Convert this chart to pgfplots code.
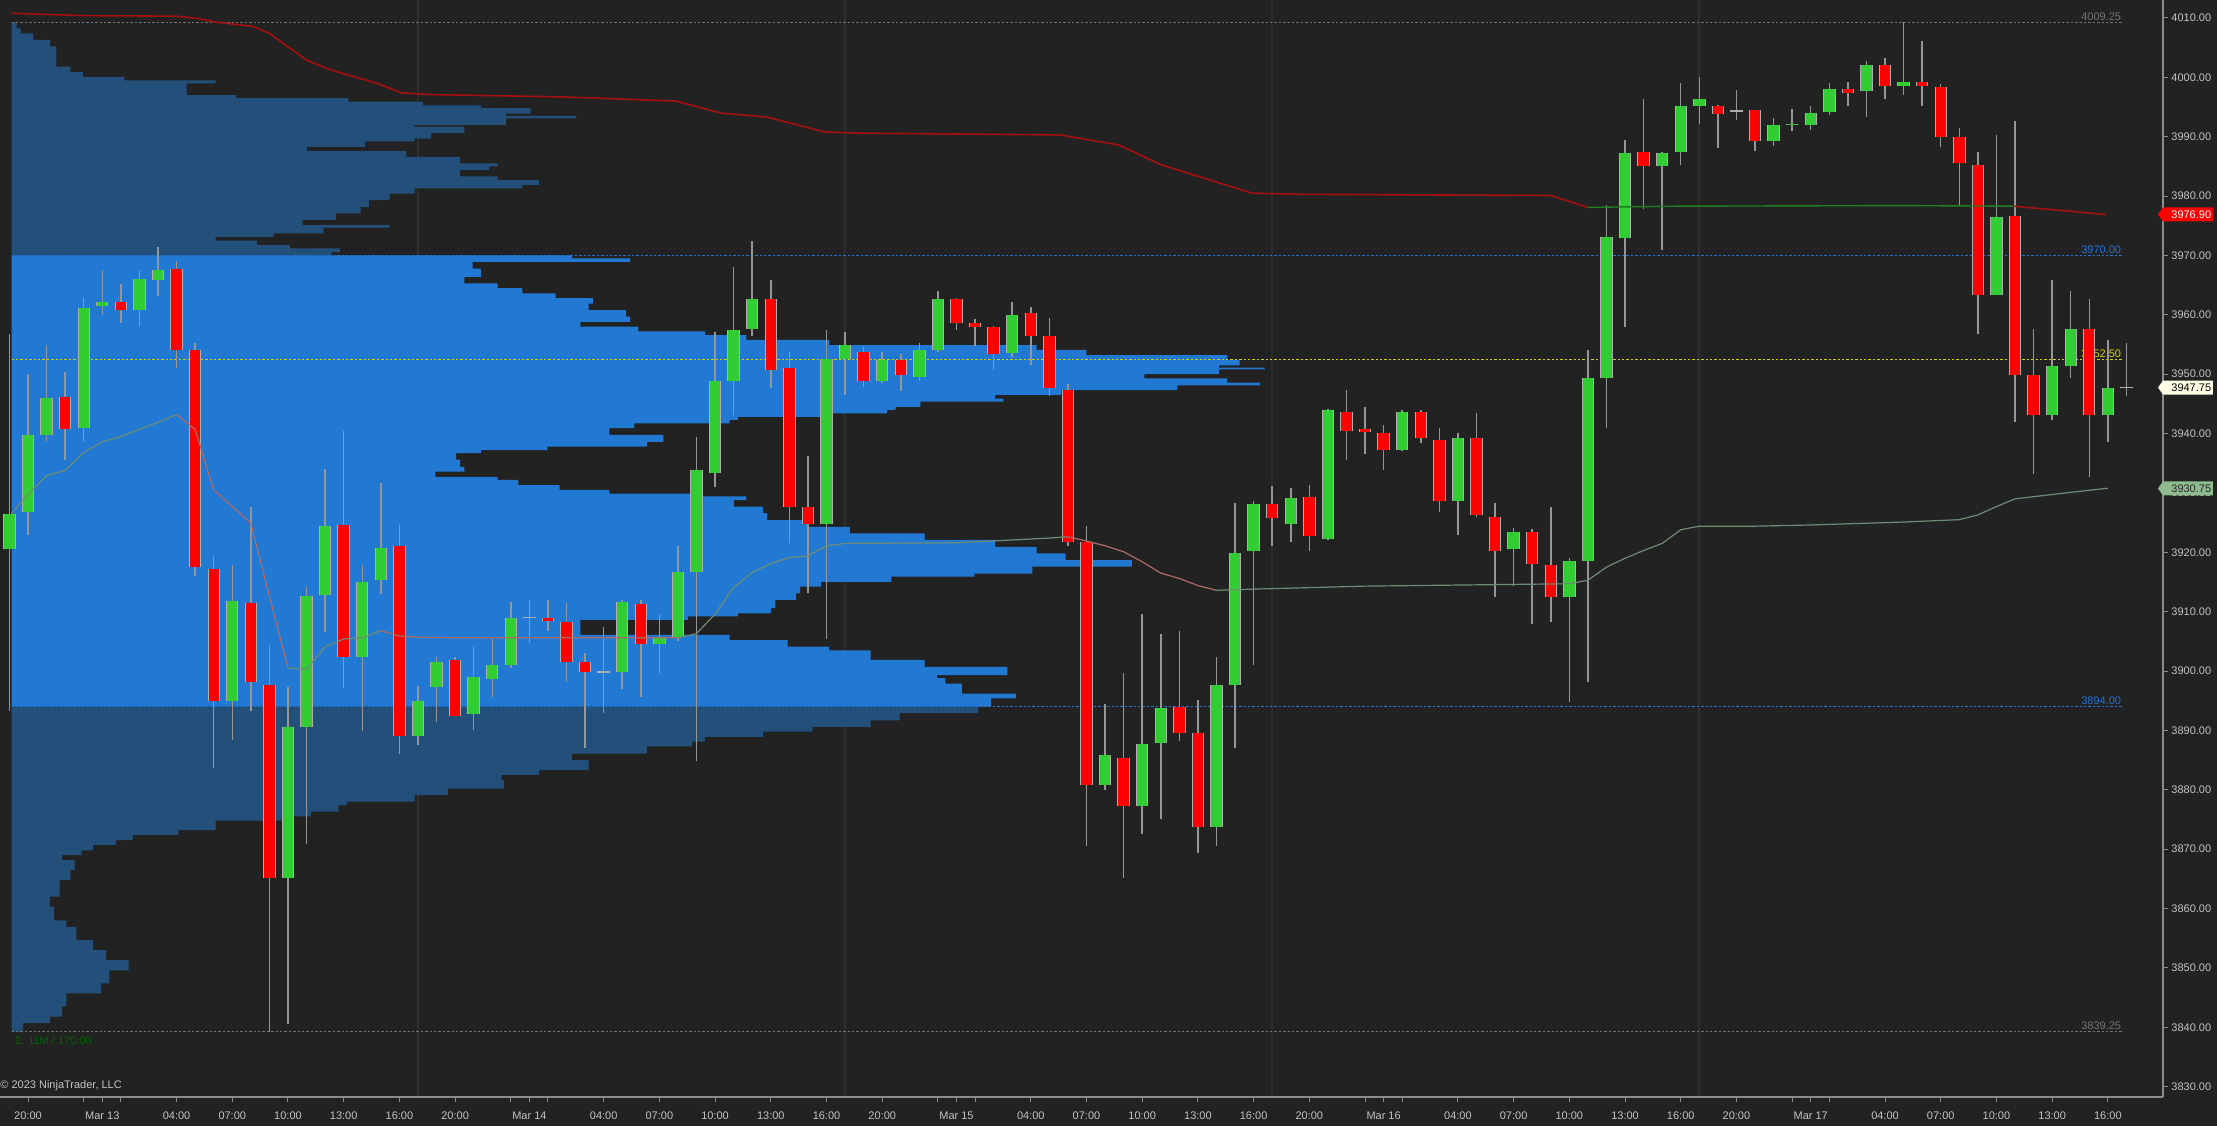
\documentclass[border=0pt]{standalone}
\usepackage{fontspec}
\setmainfont{Liberation Sans}
\usepackage{pgfplots}
\usepackage{pgfplotstable}
\pgfplotsset{compat=1.18}
\definecolor{bgc}{RGB}{34,34,34}
\definecolor{vac}{RGB}{33,121,211}
\definecolor{ovc}{RGB}{35,80,122}
\definecolor{sessc}{RGB}{46,46,46}
\definecolor{axc}{RGB}{140,140,140}
\definecolor{tickc}{RGB}{195,195,195}
\definecolor{wickc}{RGB}{150,150,150}
\definecolor{outc}{RGB}{175,175,175}
\definecolor{upc}{RGB}{50,205,50}
\definecolor{dnc}{RGB}{255,0,0}
\definecolor{lvlgray}{RGB}{115,115,115}
\definecolor{lvlblue}{RGB}{35,115,210}
\definecolor{lvlyel}{RGB}{210,210,0}
\definecolor{vwr}{RGB}{165,15,15}
\definecolor{vwg}{RGB}{35,125,35}
\definecolor{vtg}{RGB}{110,140,115}
\definecolor{vtr}{RGB}{175,105,100}
\definecolor{boxg}{RGB}{143,188,143}
\definecolor{boxw}{RGB}{255,255,232}
\definecolor{sigc}{RGB}{0,100,0}
\newcommand{\lblfont}{\fontsize{5.5}{6.6}\selectfont}

% wicks: low, high of every hourly bar (nan separates bars)
\pgfplotstableread[row sep=\\]{
x y\\
-1 3893.3\\ -1 3956.8\\ -1 nan\\ 0 3922.9\\ 0 3950.1\\ 0 nan\\ 1 3938.7\\ 1 3955.0\\ 1 nan\\
2 3935.5\\ 2 3950.4\\ 2 nan\\ 3 3938.6\\ 3 3962.8\\ 3 nan\\ 4 3960.0\\ 4 3967.6\\ 4 nan\\
5 3958.6\\ 5 3965.2\\ 5 nan\\ 6 3958.2\\ 6 3967.6\\ 6 nan\\ 7 3963.1\\ 7 3971.5\\ 7 nan\\
8 3951.0\\ 8 3969.0\\ 8 nan\\ 9 3916.0\\ 9 3955.2\\ 9 nan\\ 10 3883.6\\ 10 3919.3\\ 10 nan\\
11 3888.4\\ 11 3917.8\\ 11 nan\\ 12 3893.3\\ 12 3927.7\\ 12 nan\\ 13 3839.25\\ 13 3904.4\\ 13 nan\\
14 3840.6\\ 14 3897.3\\ 14 nan\\ 15 3870.9\\ 15 3914.1\\ 15 nan\\ 16 3906.6\\ 16 3934.1\\ 16 nan\\
17 3897.1\\ 17 3940.4\\ 17 nan\\ 18 3889.9\\ 18 3917.8\\ 18 nan\\ 19 3912.9\\ 19 3931.6\\ 19 nan\\
20 3886.0\\ 20 3924.8\\ 20 nan\\ 21 3887.6\\ 21 3897.5\\ 21 nan\\ 22 3891.4\\ 22 3902.3\\ 22 nan\\
23 3892.5\\ 23 3902.3\\ 23 nan\\ 24 3890.0\\ 24 3904.0\\ 24 nan\\ 25 3895.7\\ 25 3905.4\\ 25 nan\\
26 3900.5\\ 26 3911.6\\ 26 nan\\ 27 3904.8\\ 27 3912.0\\ 27 nan\\ 28 3906.8\\ 28 3912.0\\ 28 nan\\
29 3898.1\\ 29 3911.4\\ 29 nan\\ 30 3887.0\\ 30 3903.0\\ 30 nan\\ 31 3893.0\\ 31 3907.5\\ 31 nan\\
32 3896.9\\ 32 3912.0\\ 32 nan\\ 33 3895.7\\ 33 3912.0\\ 33 nan\\ 34 3899.6\\ 34 3909.6\\ 34 nan\\
35 3905.1\\ 35 3921.1\\ 35 nan\\ 36 3884.8\\ 36 3939.5\\ 36 nan\\ 37 3931.0\\ 37 3957.1\\ 37 nan\\
38 3943.1\\ 38 3968.0\\ 38 nan\\ 39 3956.4\\ 39 3972.5\\ 39 nan\\ 40 3947.7\\ 40 3965.8\\ 40 nan\\
41 3921.5\\ 41 3953.7\\ 41 nan\\ 42 3913.1\\ 42 3936.2\\ 42 nan\\ 43 3905.4\\ 43 3957.4\\ 43 nan\\
44 3946.5\\ 44 3957.1\\ 44 nan\\ 45 3947.9\\ 45 3954.6\\ 45 nan\\ 46 3948.5\\ 46 3953.7\\ 46 nan\\
47 3947.1\\ 47 3953.4\\ 47 nan\\ 48 3948.8\\ 48 3955.2\\ 48 nan\\ 49 3953.7\\ 49 3964.0\\ 49 nan\\
50 3957.4\\ 50 3962.9\\ 50 nan\\ 51 3954.7\\ 51 3959.3\\ 51 nan\\ 52 3950.7\\ 52 3958.2\\ 52 nan\\
53 3952.9\\ 53 3962.2\\ 53 nan\\ 54 3951.6\\ 54 3961.4\\ 54 nan\\ 55 3946.3\\ 55 3959.4\\ 55 nan\\
56 3921.1\\ 56 3948.3\\ 56 nan\\ 57 3870.5\\ 57 3924.4\\ 57 nan\\ 58 3879.9\\ 58 3894.5\\ 58 nan\\
59 3865.2\\ 59 3899.7\\ 59 nan\\ 60 3872.5\\ 60 3909.6\\ 60 nan\\ 61 3875.1\\ 61 3906.2\\ 61 nan\\
62 3888.2\\ 62 3906.8\\ 62 nan\\ 63 3869.4\\ 63 3895.1\\ 63 nan\\ 64 3870.5\\ 64 3902.3\\ 64 nan\\
65 3887.0\\ 65 3928.3\\ 65 nan\\ 66 3901.1\\ 66 3928.7\\ 66 nan\\ 67 3921.1\\ 67 3931.1\\ 67 nan\\
68 3921.7\\ 68 3930.9\\ 68 nan\\ 69 3920.2\\ 69 3931.4\\ 69 nan\\ 70 3922.1\\ 70 3944.1\\ 70 nan\\
71 3935.5\\ 71 3947.3\\ 71 nan\\ 72 3936.6\\ 72 3944.4\\ 72 nan\\ 73 3933.8\\ 73 3941.4\\ 73 nan\\
74 3937.1\\ 74 3943.9\\ 74 nan\\ 75 3938.4\\ 75 3943.9\\ 75 nan\\ 76 3926.8\\ 76 3940.9\\ 76 nan\\
77 3922.9\\ 77 3940.1\\ 77 nan\\ 78 3925.9\\ 78 3943.4\\ 78 nan\\ 79 3912.4\\ 79 3928.3\\ 79 nan\\
80 3914.4\\ 80 3924.1\\ 80 nan\\ 81 3908.0\\ 81 3923.9\\ 81 nan\\ 82 3908.3\\ 82 3927.7\\ 82 nan\\
83 3894.8\\ 83 3919.1\\ 83 nan\\ 84 3898.1\\ 84 3954.1\\ 84 nan\\ 85 3941.0\\ 85 3978.5\\ 85 nan\\
86 3958.0\\ 86 3989.4\\ 86 nan\\ 87 3977.9\\ 87 3996.3\\ 87 nan\\ 88 3971.0\\ 88 3987.4\\ 88 nan\\
89 3985.2\\ 89 3999.1\\ 89 nan\\ 90 3992.1\\ 90 4000.1\\ 90 nan\\ 91 3988.1\\ 91 3995.4\\ 91 nan\\
92 3992.8\\ 92 3997.9\\ 92 nan\\ 93 3987.6\\ 93 3994.5\\ 93 nan\\ 94 3988.4\\ 94 3993.1\\ 94 nan\\
95 3990.9\\ 95 3994.6\\ 95 nan\\ 96 3991.2\\ 96 3995.1\\ 96 nan\\ 97 3993.7\\ 97 3999.1\\ 97 nan\\
98 3995.2\\ 98 3999.3\\ 98 nan\\ 99 3993.3\\ 99 4002.7\\ 99 nan\\ 100 3996.3\\ 100 4003.3\\ 100 nan\\
101 3997.1\\ 101 4009.25\\ 101 nan\\ 102 3995.2\\ 102 4006.1\\ 102 nan\\ 103 3988.2\\ 103 3998.9\\ 103 nan\\
104 3978.5\\ 104 3991.5\\ 104 nan\\ 105 3956.8\\ 105 3987.4\\ 105 nan\\ 106 3963.4\\ 106 3990.3\\ 106 nan\\
107 3941.9\\ 107 3992.7\\ 107 nan\\ 108 3933.2\\ 108 3957.6\\ 108 nan\\ 109 3942.3\\ 109 3965.8\\ 109 nan\\
110 3949.3\\ 110 3964.0\\ 110 nan\\ 111 3932.6\\ 111 3962.6\\ 111 nan\\ 112 3938.6\\ 112 3955.8\\ 112 nan\\
113 3946.3\\ 113 3955.2\\ 113 nan\\
}\wicks

% up bars: open, close
\pgfplotstableread[row sep=\\]{
x y\\
-1 3920.5\\ -1 3926.5\\ -1 nan\\ 0 3926.8\\ 0 3939.8\\ 0 nan\\ 1 3939.8\\ 1 3946.0\\ 1 nan\\
3 3941.0\\ 3 3961.2\\ 3 nan\\ 4 3961.5\\ 4 3962.1\\ 4 nan\\ 6 3960.8\\ 6 3966.1\\ 6 nan\\
7 3965.8\\ 7 3967.5\\ 7 nan\\ 11 3895.0\\ 11 3911.8\\ 11 nan\\ 14 3865.2\\ 14 3890.5\\ 14 nan\\
15 3890.5\\ 15 3912.6\\ 15 nan\\ 16 3912.8\\ 16 3924.4\\ 16 nan\\ 18 3902.4\\ 18 3915.0\\ 18 nan\\
19 3915.3\\ 19 3920.7\\ 19 nan\\ 21 3889.0\\ 21 3895.0\\ 21 nan\\ 22 3897.3\\ 22 3901.6\\ 22 nan\\
24 3892.8\\ 24 3899.0\\ 24 nan\\ 25 3898.7\\ 25 3901.0\\ 25 nan\\ 26 3901.0\\ 26 3908.9\\ 26 nan\\
32 3899.8\\ 32 3911.6\\ 32 nan\\ 34 3904.5\\ 34 3905.7\\ 34 nan\\ 35 3905.7\\ 35 3916.7\\ 35 nan\\
36 3916.7\\ 36 3933.8\\ 36 nan\\ 37 3933.4\\ 37 3948.8\\ 37 nan\\ 38 3948.9\\ 38 3957.5\\ 38 nan\\
39 3957.6\\ 39 3962.7\\ 39 nan\\ 43 3924.7\\ 43 3952.5\\ 43 nan\\ 44 3952.5\\ 44 3954.9\\ 44 nan\\
46 3948.8\\ 46 3952.4\\ 46 nan\\ 48 3949.5\\ 48 3954.1\\ 48 nan\\ 49 3954.1\\ 49 3962.7\\ 49 nan\\
53 3953.5\\ 53 3960.0\\ 53 nan\\ 58 3880.8\\ 58 3885.8\\ 58 nan\\ 60 3877.3\\ 60 3887.7\\ 60 nan\\
61 3887.9\\ 61 3893.7\\ 61 nan\\ 64 3873.7\\ 64 3897.7\\ 64 nan\\ 65 3897.7\\ 65 3919.9\\ 65 nan\\
66 3920.2\\ 66 3928.2\\ 66 nan\\ 68 3924.7\\ 68 3929.1\\ 68 nan\\ 70 3922.3\\ 70 3943.9\\ 70 nan\\
74 3937.2\\ 74 3943.7\\ 74 nan\\ 77 3928.6\\ 77 3939.2\\ 77 nan\\ 80 3920.5\\ 80 3923.5\\ 80 nan\\
83 3912.4\\ 83 3918.5\\ 83 nan\\ 84 3918.5\\ 84 3949.3\\ 84 nan\\ 85 3949.3\\ 85 3973.1\\ 85 nan\\
86 3973.0\\ 86 3987.3\\ 86 nan\\ 88 3985.1\\ 88 3987.3\\ 88 nan\\ 89 3987.4\\ 89 3995.1\\ 89 nan\\
90 3995.1\\ 90 3996.3\\ 90 nan\\ 94 3989.2\\ 94 3991.9\\ 94 nan\\ 95 3991.9\\ 95 3992.1\\ 95 nan\\
96 3991.9\\ 96 3994.0\\ 96 nan\\ 97 3994.1\\ 97 3998.1\\ 97 nan\\ 99 3997.7\\ 99 4002.1\\ 99 nan\\
101 3998.5\\ 101 3999.3\\ 101 nan\\ 106 3963.4\\ 106 3976.4\\ 106 nan\\ 109 3943.2\\ 109 3951.4\\ 109 nan\\
110 3951.3\\ 110 3957.6\\ 110 nan\\ 112 3943.2\\ 112 3947.7\\ 112 nan\\
}\upbars

% down bars: open, close
\pgfplotstableread[row sep=\\]{
x y\\
2 3946.2\\ 2 3940.7\\ 2 nan\\ 5 3962.1\\ 5 3960.8\\ 5 nan\\ 8 3967.8\\ 8 3954.1\\ 8 nan\\
9 3954.1\\ 9 3917.5\\ 9 nan\\ 10 3917.2\\ 10 3895.0\\ 10 nan\\ 12 3911.5\\ 12 3898.1\\ 12 nan\\
13 3897.7\\ 13 3865.2\\ 13 nan\\ 17 3924.6\\ 17 3902.4\\ 17 nan\\ 20 3921.1\\ 20 3889.0\\ 20 nan\\
23 3901.8\\ 23 3892.5\\ 23 nan\\ 28 3909.0\\ 28 3908.4\\ 28 nan\\ 29 3908.3\\ 29 3901.6\\ 29 nan\\
30 3901.5\\ 30 3899.8\\ 30 nan\\ 33 3911.3\\ 33 3904.5\\ 33 nan\\ 40 3962.7\\ 40 3950.7\\ 40 nan\\
41 3951.0\\ 41 3927.7\\ 41 nan\\ 42 3927.7\\ 42 3924.7\\ 42 nan\\ 45 3953.7\\ 45 3948.8\\ 45 nan\\
47 3952.4\\ 47 3949.8\\ 47 nan\\ 50 3962.7\\ 50 3958.6\\ 50 nan\\ 51 3958.6\\ 51 3958.0\\ 51 nan\\
52 3958.0\\ 52 3953.4\\ 52 nan\\ 54 3960.3\\ 54 3956.5\\ 54 nan\\ 55 3956.4\\ 55 3947.6\\ 55 nan\\
56 3947.4\\ 56 3921.7\\ 56 nan\\ 57 3921.7\\ 57 3880.8\\ 57 nan\\ 59 3885.4\\ 59 3877.3\\ 59 nan\\
62 3893.9\\ 62 3889.6\\ 62 nan\\ 63 3889.6\\ 63 3873.7\\ 63 nan\\ 67 3928.2\\ 67 3925.7\\ 67 nan\\
69 3929.3\\ 69 3922.7\\ 69 nan\\ 71 3943.7\\ 71 3940.4\\ 71 nan\\ 72 3940.8\\ 72 3940.2\\ 72 nan\\
73 3940.1\\ 73 3937.2\\ 73 nan\\ 75 3943.7\\ 75 3939.2\\ 75 nan\\ 76 3939.0\\ 76 3928.6\\ 76 nan\\
78 3939.2\\ 78 3926.3\\ 78 nan\\ 79 3925.9\\ 79 3920.2\\ 79 nan\\ 81 3923.5\\ 81 3918.1\\ 81 nan\\
82 3917.9\\ 82 3912.4\\ 82 nan\\ 87 3987.4\\ 87 3985.1\\ 87 nan\\ 91 3995.1\\ 91 3993.9\\ 91 nan\\
93 3994.5\\ 93 3989.2\\ 93 nan\\ 98 3998.1\\ 98 3997.3\\ 98 nan\\ 100 4002.1\\ 100 3998.5\\ 100 nan\\
102 3999.3\\ 102 3998.5\\ 102 nan\\ 103 3998.3\\ 103 3990.0\\ 103 nan\\ 104 3990.0\\ 104 3985.6\\ 104 nan\\
105 3985.3\\ 105 3963.4\\ 105 nan\\ 107 3976.6\\ 107 3949.8\\ 107 nan\\ 108 3949.8\\ 108 3943.2\\ 108 nan\\
111 3957.6\\ 111 3943.2\\ 111 nan\\
}\dnbars

% doji bars (open = close)
\pgfplotstableread[row sep=\\]{
x y\\
27 3908.85\\ 27 3909.15\\ 27 nan\\ 31 3899.65\\ 31 3899.95\\ 31 nan\\
92 3994.15\\ 92 3994.45\\ 92 nan\\ 113 3947.6\\ 113 3947.9\\ 113 nan\\
}\dojis

\pgfplotsset{lvl/.style={line width=0.5pt, dash pattern=on 1.2pt off 1pt}}

\begin{document}
\begin{tikzpicture}[x=1pt,y=1pt]
\fill[bgc] (0pt,0pt) rectangle (1108.5pt,563pt);
\useasboundingbox (0pt,0pt) rectangle (1108.5pt,563pt);

% ---------- volume profile (x in screen units) ----------
\begin{axis}[at={(0pt,14.5pt)}, anchor=south west, scale only axis,
  width=1081.5pt, height=548.5pt, xmin=0, xmax=2608.6,
  ymin=3828.25, ymax=4013.03, hide axis]
\addplot[sessc, line width=0.6pt] coordinates {(504,3828.25) (504,4013.03)};
\addplot[sessc, line width=0.6pt] coordinates {(1019,3828.25) (1019,4013.03)};
\addplot[sessc, line width=0.6pt] coordinates {(1534,3828.25) (1534,4013.03)};
\addplot[sessc, line width=0.6pt] coordinates {(2049,3828.25) (2049,4013.03)};
\addplot[fill=ovc, draw=none] coordinates {
(14,4009.3) (20,4009.3)(20,4008.25) (25,4008.25)(25,4007.4) (40,4007.4)(40,4006.3)
(60,4006.3)(60,4005.2) (68,4005.2)(68,4001.8) (85,4001.8)(85,4000.9) (100,4000.9)(100,4000.1)
(150,4000.1)(150,3999.5) (260,3999.5)(260,3999.0) (225,3999.0)(225,3997.0) (285,3997.0)(285,3996.5)
(420,3996.5)(420,3995.9) (510,3995.9)(510,3995.3) (580,3995.3)(580,3994.8) (640,3994.8)(640,3993.9)
(610,3993.9)(610,3993.5) (695,3993.5)(695,3993.1) (610,3993.1)(610,3992.0) (500,3992.0)(500,3991.7)
(560,3991.7)(560,3990.6) (520,3990.6)(520,3989.7) (500,3989.7)(500,3989.2) (440,3989.2)(440,3988.3)
(370,3988.3)(370,3987.6) (490,3987.6)(490,3986.6) (555,3986.6)(555,3985.5) (600,3985.5)(600,3985.0)
(590,3985.0)(590,3984.4) (555,3984.4)(555,3983.3) (600,3983.3)(600,3982.7) (650,3982.7)(650,3981.9)
(630,3981.9)(630,3981.3) (500,3981.3)(500,3980.4) (470,3980.4)(470,3979.3) (445,3979.3)(445,3978.2)
(435,3978.2)(435,3977.1) (405,3977.1)(405,3976.0) (365,3976.0)(365,3975.1) (470,3975.1)(470,3974.7)
(390,3974.7)(390,3973.7) (330,3973.7)(330,3973.1) (260,3973.1)(260,3972.5) (310,3972.5)(310,3971.8)
(350,3971.8)(350,3971.2) (410,3971.2)(410,3970.6) (400,3970.6)(400,3970.0) (14,3970.0)};
\addplot[fill=vac, draw=none] coordinates {
(14,3970.0) (690,3970.0)(690,3969.5) (760,3969.5)(760,3968.9) (570,3968.9)(570,3967.8)
(580,3967.8)(580,3966.4) (560,3966.4)(560,3965.3) (600,3965.3)(600,3964.5) (630,3964.5)(630,3963.6)
(670,3963.6)(670,3962.8) (715,3962.8)(715,3961.9) (710,3961.9)(710,3960.8) (755,3960.8)(755,3959.7)
(760,3959.7)(760,3958.8) (700,3958.8)(700,3958.0) (770,3958.0)(770,3957.2) (850,3957.2)(850,3956.6)
(900,3956.6)(900,3955.8) (1000,3955.8)(1000,3954.9) (1250,3954.9)(1250,3954.1) (1310,3954.1)(1310,3953.2)
(1480,3953.2)(1480,3952.4) (1495,3952.4)(1495,3951.5) (1470,3951.5)(1470,3951.1) (1525,3951.1)(1525,3950.8)
(1470,3950.8)(1470,3950.0) (1380,3950.0)(1380,3949.3) (1480,3949.3)(1480,3948.6) (1520,3948.6)(1520,3948.1)
(1420,3948.1)(1420,3947.3) (1280,3947.3)(1280,3946.5) (1200,3946.5)(1200,3945.9) (1210,3945.9)(1210,3945.4)
(1110,3945.4)(1110,3944.5) (1080,3944.5)(1080,3944.0) (1070,3944.0)(1070,3943.4) (1000,3943.4)(1000,3942.8)
(890,3942.8)(890,3942.3) (880,3942.3)(880,3941.7) (765,3941.7)(765,3940.9) (735,3940.9)(735,3939.8)
(800,3939.8)(800,3938.6) (780,3938.6)(780,3937.8) (660,3937.8)(660,3937.2) (580,3937.2)(580,3936.7)
(550,3936.7)(550,3935.6) (555,3935.6)(555,3934.4) (560,3934.4)(560,3933.6) (525,3933.6)(525,3932.7)
(600,3932.7)(600,3932.2) (625,3932.2)(625,3931.3) (675,3931.3)(675,3930.5) (735,3930.5)(735,3929.9)
(845,3929.9)(845,3929.4) (900,3929.4)(900,3928.8) (885,3928.8)(885,3927.7) (920,3927.7)(920,3926.6)
(925,3926.6)(925,3925.4) (975,3925.4)(975,3924.3) (1025,3924.3)(1025,3923.2) (1115,3923.2)(1115,3922.1)
(1200,3922.1)(1200,3920.9) (1250,3920.9)(1250,3919.8) (1285,3919.8)(1285,3918.7) (1365,3918.7)(1365,3917.6)
(1245,3917.6)(1245,3916.4) (1175,3916.4)(1175,3915.9) (1075,3915.9)(1075,3915.0) (990,3915.0)(990,3914.2)
(965,3914.2)(965,3913.1) (960,3913.1)(960,3912.0) (935,3912.0)(935,3910.6) (930,3910.6)(930,3909.7)
(890,3909.7)(890,3909.2) (830,3909.2)(830,3908.6) (700,3908.6)(700,3906.1) (880,3906.1)(880,3905.2)
(950,3905.2)(950,3904.1) (1000,3904.1)(1000,3903.5) (1050,3903.5)(1050,3901.9) (1115,3901.9)(1115,3900.7)
(1215,3900.7)(1215,3899.3) (1130,3899.3)(1130,3898.8) (1140,3898.8)(1140,3897.9) (1160,3897.9)(1160,3896.2)
(1225,3896.2)(1225,3895.4) (1195,3895.4)(1195,3894.0) (14,3894.0)};
\addplot[fill=ovc, draw=none] coordinates {
(14,3894.0) (1180,3894.0)(1180,3892.9) (1085,3892.9)(1085,3891.7) (1050,3891.7)(1050,3890.6)
(980,3890.6)(980,3889.8) (920,3889.8)(920,3888.9) (850,3888.9)(850,3888.1) (835,3888.1)(835,3887.3)
(780,3887.3)(780,3886.1) (690,3886.1)(690,3885.0) (710,3885.0)(710,3883.3) (650,3883.3)(650,3882.5)
(605,3882.5)(605,3881.6) (608,3881.6)(608,3880.2) (540,3880.2)(540,3879.1) (500,3879.1)(500,3878.0)
(418,3878.0)(418,3877.4) (408,3877.4)(408,3876.3) (375,3876.3)(375,3875.5) (340,3875.5)(340,3874.8)
(260,3874.8)(260,3873.2) (215,3873.2)(215,3872.4) (160,3872.4)(160,3871.5) (140,3871.5)(140,3870.7)
(112,3870.7)(112,3869.8) (98,3869.8)(98,3869.0) (75,3869.0)(75,3868.2) (90,3868.2)(90,3866.5)
(85,3866.5)(85,3864.8) (72,3864.8)(72,3862.0) (60,3862.0)(60,3860.3) (65,3860.3)(65,3858.0)
(80,3858.0)(80,3856.9) (92,3856.9)(92,3854.7) (112,3854.7)(112,3853.0) (128,3853.0)(128,3851.3)
(155,3851.3)(155,3849.6) (132,3849.6)(132,3847.4) (122,3847.4)(122,3845.7) (80,3845.7)(80,3843.5)
(75,3843.5)(75,3841.8) (60,3841.8)(60,3840.7) (28,3840.7)(28,3839.25) (14,3839.25)};
\end{axis}

% ---------- price chart (x in bars) ----------
\begin{axis}[at={(0pt,14.5pt)}, anchor=south west, scale only axis,
  width=1081.5pt, height=548.5pt,
  xmin=-1.508, xmax=114.97, ymin=3828.25, ymax=4013.03,
  axis x line*=bottom, axis y line*=right,
  axis line style={draw=axc, line width=0.7pt, -},
  tick align=outside, major tick length=2.5pt,
  tick style={draw=axc, line width=0.5pt},
  xtick={0,4,8,11,14,17,20,23,27,31,34,37,40,43,46,50,54,57,60,63,66,69,73,77,80,83,86,89,92,96,100,103,106,109,112},
  xticklabels={20:00,Mar 13,04:00,07:00,10:00,13:00,16:00,20:00,Mar 14,04:00,07:00,10:00,13:00,16:00,20:00,Mar 15,04:00,07:00,10:00,13:00,16:00,20:00,Mar 16,04:00,07:00,10:00,13:00,16:00,20:00,Mar 17,04:00,07:00,10:00,13:00,16:00},
  extra x ticks={3,5,26,28,49,51,72,74,95,97}, extra x tick labels={},
  ytick={3830,3840,...,4010},
  scaled y ticks=false,
  ticklabel style={font=\lblfont, text=tickc},
  xticklabel style={yshift=-1.4pt},
  yticklabel style={inner xsep=1.5pt, /pgf/number format/.cd, fixed, fixed zerofill, precision=2, 1000 sep={}, assume math mode=true},
  unbounded coords=jump,
  clip=false]

\addplot[lvlgray, lvl] coordinates {(-0.88,4009.25) (112.8,4009.25)};
\addplot[lvlblue, lvl] coordinates {(-0.88,3970) (112.8,3970)};
\addplot[lvlyel, lvl] coordinates {(-0.88,3952.5) (112.8,3952.5)};
\addplot[lvlblue, lvl] coordinates {(-0.88,3894) (112.8,3894)};
\addplot[lvlgray, lvl] coordinates {(-0.88,3839.25) (112.8,3839.25)};
\node[anchor=south east, inner sep=0.6pt, font=\lblfont, text=lvlgray] at (axis cs:112.8,4009.25) {4009.25};
\node[anchor=south east, inner sep=0.6pt, font=\lblfont, text=lvlblue] at (axis cs:112.8,3970) {3970.00};
\node[anchor=south east, inner sep=0.6pt, font=\lblfont, text=lvlyel] at (axis cs:112.8,3952.5) {3952.50};
\node[anchor=south east, inner sep=0.6pt, font=\lblfont, text=lvlblue] at (axis cs:112.8,3894) {3894.00};
\node[anchor=south east, inner sep=0.6pt, font=\lblfont, text=lvlgray] at (axis cs:112.8,3839.25) {3839.25};

% candles
\addplot[draw=wickc, line width=0.75pt] table[x=x, y=y] {\wicks};
\addplot[draw=outc, line width=6.2pt] table[x=x, y=y] {\upbars};
\addplot[draw=upc, line width=5.2pt] table[x=x, y=y] {\upbars};
\addplot[draw=outc, line width=6.2pt] table[x=x, y=y] {\dnbars};
\addplot[draw=dnc, line width=5.2pt] table[x=x, y=y] {\dnbars};
\addplot[draw=outc, line width=6.2pt] table[x=x, y=y] {\dojis};

% upper line
\addplot[vwr, line width=0.8pt] coordinates {(-0.9,4010.8) (3,4010.4) (8,4010.3) (9.2,4009.9) (10.1,4009.3) (12.1,4008.6) (13,4007.4) (15,4002.9) (16.35,4001.2) (18.8,3999.0) (20.1,3997.4) (21.7,3997.1) (28.9,3996.7) (34.9,3996.0) (37.3,3994.0) (39.8,3993.3) (42.9,3990.8) (44.9,3990.6) (55.6,3990.3) (58.75,3988.6) (61,3985.3) (65.9,3980.5) (68.5,3980.3) (82,3980.1) (84,3978.1)};
\addplot[vwg, line width=0.7pt] coordinates {(84,3978.1) (88.8,3978.3) (100.8,3978.4) (106.9,3978.3)};
\addplot[vwr, line width=0.8pt] coordinates {(106.9,3978.3) (111.9,3976.9)};
% lower line
\addplot[vtg, line width=0.6pt] coordinates {(-0.9,3926.5) (0,3929.8) (1,3932.9) (2,3933.8) (3,3936.8) (4,3938.6) (5,3939.5) (6,3940.7) (7,3941.9) (8,3943.2)};
\addplot[vtr, line width=0.6pt] coordinates {(8,3943.2) (9,3940.7) (10,3930.5) (11,3927.7) (12,3924.9) (13,3912.6) (14,3900.5)};
\addplot[vtg, line width=0.6pt] coordinates {(14,3900.5) (15,3900.3) (16,3904.1) (17,3905.4) (18,3905.6) (19,3906.8)};
\addplot[vtr, line width=0.6pt] coordinates {(19,3906.8) (20,3905.9) (21,3905.7) (23,3905.6) (35,3905.6)};
\addplot[vtg, line width=0.6pt] coordinates {(35,3905.6) (36,3906.3) (37,3909.6) (38,3914.1) (39,3916.6) (40,3918.1) (41,3919.1) (42,3919.4) (43,3921.1) (44,3921.5) (50,3921.6) (55,3922.4) (56,3922.6)};
\addplot[vtr, line width=0.6pt] coordinates {(56,3922.6) (57,3921.9) (58,3921.1) (59,3920.1) (60,3918.4) (61,3916.5) (62,3915.6) (63,3914.4) (64,3913.6)};
\addplot[vtg, line width=0.6pt] coordinates {(64,3913.6) (66,3913.8) (72,3914.3) (83,3914.7) (84,3915.3) (85,3917.5) (86,3919.0) (87,3920.3) (88,3921.5) (89,3923.8) (90,3924.4) (93,3924.4) (96,3924.6) (99,3924.9) (101,3925.1) (104,3925.5) (105,3926.3) (106,3927.7) (107,3929.0) (110,3930.1) (112,3930.8)};

% price markers on the right axis
\addplot[fill=dnc, draw=none] coordinates {(114.70,3976.9) (114.97,3978.08) (117.66,3978.08) (117.66,3975.72) (114.97,3975.72)};
\addplot[fill=boxw, draw=none] coordinates {(114.70,3947.75) (114.97,3948.93) (117.66,3948.93) (117.66,3946.57) (114.97,3946.57)};
\addplot[fill=boxg, draw=none] coordinates {(114.70,3930.75) (114.97,3931.93) (117.66,3931.93) (117.66,3929.57) (114.97,3929.57)};
\node[anchor=west, inner sep=0pt, font=\lblfont, text=white] at (axis cs:115.40,3976.9) {3976.90};
\node[anchor=west, inner sep=0pt, font=\lblfont, text=black] at (axis cs:115.40,3947.75) {3947.75};
\node[anchor=west, inner sep=0pt, font=\lblfont, text=black!85] at (axis cs:115.40,3930.75) {3930.75};
\end{axis}

\node[anchor=west, inner sep=0pt, font=\lblfont, text=sigc] at (7.5pt,42.5pt) {Σ: 11M / 170.00};
\node[anchor=west, inner sep=0pt, font=\lblfont, text=tickc] at (0pt,20pt) {© 2023 NinjaTrader, LLC};
\end{tikzpicture}
\end{document}
